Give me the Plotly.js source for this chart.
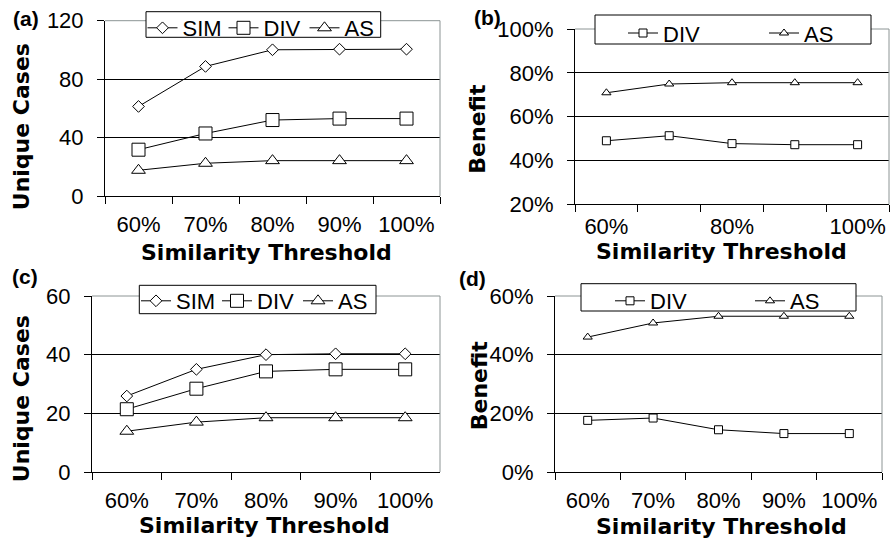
<!DOCTYPE html>
<html><head><meta charset="utf-8">
<script src="https://cdn.plot.ly/plotly-3.0.1.min.js"></script>
<style>html,body{margin:0;padding:0;background:#fff;}#chart{width:892px;height:543px;}</style>
</head><body><div id="chart"></div>
<script>
// ---- data ----
const thresholds = ['60%', '70%', '80%', '90%', '100%'];
const tickLabelsAll = ['60%', '70%', '80%', '90%', '100%'];
const tickLabelsAlt = ['60%', '', '80%', '', '100%'];

// (a) Unique Cases
const aSIM = [61.3, 88.7, 100.1, 100.5, 100.5];
const aDIV = [31.7, 42.8, 52.0, 53.0, 53.0];
const aAS  = [17.6, 22.4, 24.2, 24.2, 24.2];
// (b) Benefit (%)
const bDIV = [49.0, 51.3, 47.7, 47.2, 47.2];
const bAS  = [70.9, 74.9, 75.5, 75.5, 75.5];
// (c) Unique Cases
const cSIM = [25.9, 35.0, 40.0, 40.3, 40.3];
const cDIV = [21.4, 28.4, 34.3, 35.0, 35.0];
const cAS  = [13.9, 17.0, 18.5, 18.5, 18.5];
// (d) Benefit (%)
const dDIV = [17.6, 18.4, 14.4, 13.1, 13.1];
const dAS  = [46.0, 50.8, 53.1, 53.1, 53.1];

// ---- helpers (pixel -> paper) ----
const W = 892, H = 543;
const px = x => x / W;
const py = y => 1 - y / H;

const tickFont = {family: 'Liberation Sans, Arial, sans-serif', size: 22, color: '#000'};
const legFont = {family: 'Liberation Sans, Arial, sans-serif', size: 22, color: '#000'};
const titleFont = {family: 'DejaVu Sans, sans-serif', size: 22, color: '#000', weight: 'bold'};
const panelFont = {family: 'Liberation Sans, Arial, sans-serif', size: 21, color: '#000', weight: 'bold'};

function mk(x, y, name, sym, size, xa, ya, leg, lw) {
  const t = {
    x: x, y: y, name: name, type: 'scatter', mode: 'lines+markers',
    xaxis: xa, yaxis: ya, legend: leg,
    line: {color: '#000', width: 1},
    marker: {symbol: sym, size: size, color: '#fff', line: {color: '#000', width: 1}},
    hoverinfo: 'skip'
  };
  if (lw) t.legendwidth = lw;
  return t;
}

const data = [
  mk(thresholds, aSIM, 'SIM', 'diamond', 9, 'x', 'y', 'legend', 36),
  mk(thresholds, aDIV, 'DIV', 'square', 13, 'x', 'y', 'legend', 36),
  mk(thresholds, aAS, 'AS', 'triangle-up', 12, 'x', 'y', 'legend'),
  mk(thresholds, bDIV, 'DIV', 'square', 8, 'x2', 'y2', 'legend2', 96),
  mk(thresholds, bAS, 'AS', 'triangle-up', 8, 'x2', 'y2', 'legend2'),
  mk(thresholds, cSIM, 'SIM', 'diamond', 9, 'x3', 'y3', 'legend3', 36),
  mk(thresholds, cDIV, 'DIV', 'square', 13, 'x3', 'y3', 'legend3', 36),
  mk(thresholds, cAS, 'AS', 'triangle-up', 12, 'x3', 'y3', 'legend3'),
  mk(thresholds, dDIV, 'DIV', 'square', 8, 'x4', 'y4', 'legend4', 95),
  mk(thresholds, dAS, 'AS', 'triangle-up', 8, 'x4', 'y4', 'legend4')
];

function xax(l, r, anchor, ticktext, standoff) {
  return {
    domain: [px(l), px(r)], anchor: anchor, type: 'category',
    categoryorder: 'array', categoryarray: thresholds,
    range: [-0.5, 4.5], tickmode: 'array', tickvals: thresholds, ticktext: ticktext, tickangle: 0,
    tickson: 'boundaries', ticks: 'outside', ticklen: 7, tickcolor: '#000', tickwidth: 1,
    showline: true, linecolor: '#000', linewidth: 1, showgrid: false, zeroline: false,
    tickfont: tickFont, ticklabelstandoff: standoff, fixedrange: true
  };
}
function yax(t, b, anchor, range, dtick, suffix) {
  return {
    domain: [py(b), py(t)], anchor: anchor, range: range, tickmode: 'linear', tick0: 0, dtick: dtick,
    ticksuffix: suffix, ticks: 'outside', ticklen: 7, tickcolor: '#000', tickwidth: 1,
    showline: true, linecolor: '#000', linewidth: 1, showgrid: true, gridcolor: '#000', gridwidth: 1,
    zeroline: false, tickfont: tickFont, ticklabelstandoff: 9, fixedrange: true
  };
}

const frameGray = '#8c9494';
const shapes = [];
[['x', 'y'], ['x2', 'y2'], ['x3', 'y3'], ['x4', 'y4']].forEach(([xa, ya]) => {
  shapes.push({type: 'line', xref: xa + ' domain', yref: ya + ' domain', x0: 0, x1: 1, y0: 1, y1: 1, line: {color: frameGray, width: 1}, layer: 'above'});
  shapes.push({type: 'line', xref: xa + ' domain', yref: ya + ' domain', x0: 1, x1: 1, y0: 0, y1: 1, line: {color: frameGray, width: 1}, layer: 'above'});
});
// legend boxes
[[146, 380.7, 11.7, 37.3], [595, 871, 15, 44], [139.3, 376, 285.3, 313.7], [581, 856, 283.7, 311]].forEach(([l, r, t, b]) => {
  shapes.push({type: 'rect', xref: 'paper', yref: 'paper', x0: px(l), x1: px(r), y0: py(b), y1: py(t), fillcolor: '#fff', line: {color: '#000', width: 1}, layer: 'above'});
});

function leg(l, t) {
  return {x: px(l), y: py(t), xanchor: 'left', yanchor: 'top', orientation: 'h', bgcolor: 'rgba(0,0,0,0)', borderwidth: 0, font: legFont, itemclick: false, itemdoubleclick: false};
}

function ann(text, x, y, font, angle) {
  return {text: text, x: px(x), y: py(y), xref: 'paper', yref: 'paper', xanchor: 'center', yanchor: 'middle', showarrow: false, font: font, textangle: angle || 0};
}

const annotations = [
  ann('(a)', 25.5, 18.3, panelFont), ann('(b)', 487.7, 17, panelFont),
  ann('(c)', 25, 276, panelFont), ann('(d)', 472, 278, panelFont),
  ann('Unique Cases', 21.5, 126.7, titleFont, -90), ann('Benefit', 477.4, 128.3, titleFont, -90),
  ann('Unique Cases', 21.5, 398.7, titleFont, -90), ann('Benefit', 479, 385.3, titleFont, -90),
  ann('Similarity Threshold', 266.7, 252.4, titleFont), ann('Similarity Threshold', 721, 252, titleFont),
  ann('Similarity Threshold', 264.3, 525, titleFont), ann('Similarity Threshold', 721.8, 526, titleFont)
];

const layout = {
  width: W, height: H, margin: {l: 0, r: 0, t: 0, b: 0},
  paper_bgcolor: '#fff', plot_bgcolor: '#fff', hovermode: false, showlegend: true,
  xaxis: xax(105, 440, 'y', tickLabelsAll, 9),
  yaxis: yax(20.7, 196, 'x', [0, 120], 40, ''),
  xaxis2: xax(575, 889, 'y2', tickLabelsAlt, 2),
  yaxis2: yax(29, 204.3, 'x2', [20, 100], 20, '%'),
  xaxis3: xax(92, 440, 'y3', tickLabelsAll, 9),
  yaxis3: yax(296, 472, 'x3', [0, 60], 20, ''),
  xaxis4: xax(555, 882, 'y4', tickLabelsAll, 9),
  yaxis4: yax(296, 472, 'x4', [0, 60], 20, '%'),
  legend: leg(142.5, 7),
  legend2: leg(623, 12.2),
  legend3: leg(136, 280),
  legend4: leg(610, 280),
  shapes: shapes,
  annotations: annotations
};

Plotly.newPlot('chart', data, layout, {displayModeBar: false, staticPlot: true});
</script>
</body></html>
